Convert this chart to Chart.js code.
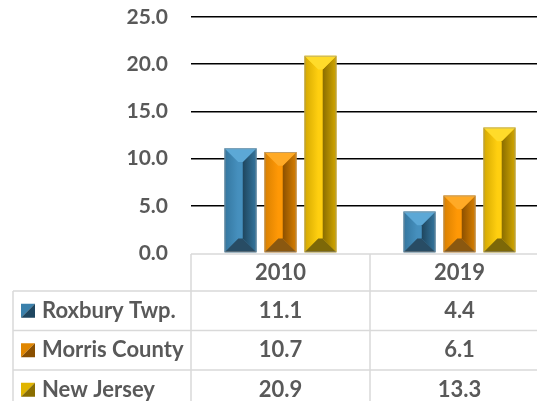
<!DOCTYPE html>
<html>
<head>
<meta charset="utf-8">
<script src="https://cdn.jsdelivr.net/npm/chart.js@4/dist/chart.umd.min.js"></script>
<style>
  html, body { margin: 0; padding: 0; background: #fff; overflow: hidden; }
  #wrap { width: 537px; height: 401px; overflow: hidden; }
  canvas { display: block; }
</style>
</head>
<body>
<div id="wrap"><canvas id="grafico" width="549" height="401"></canvas></div>
<script>
// datos
var categorias = ['2010', '2019'];
var series = ['Roxbury Twp.', 'Morris County', 'New Jersey'];
var roxbury = [11.1, 4.4];
var morris = [10.7, 6.1];
var newJersey = [20.9, 13.3];
var ticksY = [0, 5, 10, 15, 20, 25];

var gris = '#595959';
var linea = '#d9d9d9';
var fuente = 'Lato, "Open Sans", sans-serif';

// colores de las caras del bisel: arriba, izquierda, centro, derecha, abajo
var bisel = [
  { top: '#5ca8d6', left: '#34769f', mid: '#4690be', right: '#1f465e', bottom: '#284c64', key: '#3a80ab', keyDark: '#1e4660' },
  { top: '#ffaa26', left: '#d98000', mid: '#ff9806', right: '#8c5000', bottom: '#8a5810', key: '#e08600', keyDark: '#8a4f00' },
  { top: '#ffdb2a', left: '#d4a800', mid: '#ffcf10', right: '#8a6d00', bottom: '#7d6808', key: '#e0b400', keyDark: '#8a6e00' }
];

function poligono(ctx, pts, color) {
  ctx.beginPath();
  ctx.moveTo(pts[0][0], pts[0][1]);
  for (var i = 1; i < pts.length; i++) ctx.lineTo(pts[i][0], pts[i][1]);
  ctx.closePath();
  ctx.fillStyle = color;
  ctx.fill();
}

var biselPlugin = {
  id: 'bisel',
  afterDatasetsDraw: function (chart) {
    var ctx = chart.ctx;
    ctx.save();
    chart.data.datasets.forEach(function (ds, d) {
      var c = bisel[d];
      chart.getDatasetMeta(d).data.forEach(function (el) {
        var p = el.getProps(['x', 'y', 'base', 'width'], true);
        var x0 = p.x - p.width / 2, x1 = p.x + p.width / 2;
        var y0 = p.y, y1 = p.base;
        var b = Math.min(p.width * 0.43, (y1 - y0) / 2);
        var gl = ctx.createLinearGradient(x0, 0, x0 + b, 0);
        gl.addColorStop(0, c.left); gl.addColorStop(1, c.mid);
        var gr = ctx.createLinearGradient(x1 - b, 0, x1, 0);
        gr.addColorStop(0, c.right); gr.addColorStop(1, c.left);
        poligono(ctx, [[x0 + b, y0 + b], [x1 - b, y0 + b], [x1 - b, y1 - b], [x0 + b, y1 - b]], c.mid);
        poligono(ctx, [[x0, y0], [x0 + b, y0 + b], [x0 + b, y1 - b], [x0, y1]], gl);
        poligono(ctx, [[x1, y0], [x1 - b, y0 + b], [x1 - b, y1 - b], [x1, y1]], gr);
        poligono(ctx, [[x0, y0], [x1, y0], [x1 - b, y0 + b], [x0 + b, y0 + b]], c.top);
        poligono(ctx, [[x0, y1], [x1, y1], [x1 - b, y1 - b], [x0 + b, y1 - b]], c.bottom);
        // borde fino gris
        ctx.strokeStyle = 'rgba(150,150,150,0.6)';
        ctx.lineWidth = 1;
        ctx.strokeRect(x0 + 0.5, y0 + 0.5, x1 - x0 - 1, y1 - y0 - 1);
      });
    });
    ctx.restore();
  }
};

var tablaPlugin = {
  id: 'tabla',
  afterDraw: function (chart) {
    var ctx = chart.ctx;
    var area = chart.chartArea;
    var xs = chart.scales.x;
    var anchoCat = xs.width / categorias.length;
    var izq = 13;
    var top = area.bottom + 1;
    var altoCab = 37, altoFila = 39.5;
    var fondo = chart.height + 10;
    var der = chart.width;
    var datos = [roxbury, morris, newJersey];

    ctx.save();
    ctx.strokeStyle = linea;
    ctx.lineWidth = 1.5;
    ctx.beginPath();
    // borde superior de la cabecera
    ctx.moveTo(area.left, top); ctx.lineTo(der, top);
    ctx.moveTo(area.left, top); ctx.lineTo(area.left, fondo);
    for (var i = 1; i <= categorias.length; i++) {
      var vx = area.left + i * anchoCat;
      ctx.moveTo(vx, top); ctx.lineTo(vx, fondo);
    }
    ctx.moveTo(izq, top + altoCab); ctx.lineTo(izq, fondo);
    for (var r = 0; r < series.length; r++) {
      var hy = top + altoCab + r * altoFila;
      ctx.moveTo(izq, hy); ctx.lineTo(der, hy);
    }
    ctx.stroke();

    ctx.fillStyle = gris;
    ctx.font = 'bold 22px ' + fuente;
    ctx.textBaseline = 'middle';
    ctx.textAlign = 'center';
    categorias.forEach(function (cat, i) {
      ctx.fillText(cat, xs.getPixelForValue(i), top + altoCab / 2);
    });
    series.forEach(function (nombre, r) {
      var cy = top + altoCab + r * altoFila + altoFila / 2;
      var c = bisel[r];
      // clave de la leyenda
      var kx = 21, ky = cy - 7, k = 14;
      poligono(ctx, [[kx, ky], [kx + k, ky], [kx, ky + k]], c.key);
      poligono(ctx, [[kx + k, ky], [kx + k, ky + k], [kx, ky + k]], c.keyDark);
      ctx.fillStyle = gris;
      ctx.textAlign = 'left';
      ctx.fillText(nombre, 42, cy);
      ctx.textAlign = 'center';
      datos[r].forEach(function (v, i) {
        ctx.fillText(v.toFixed(1), xs.getPixelForValue(i), cy);
      });
    });
    ctx.restore();
  }
};

var ctx = document.getElementById('grafico').getContext('2d');
var chart = new Chart(ctx, {
  type: 'bar',
  data: {
    labels: categorias,
    datasets: [
      { label: series[0], data: roxbury, backgroundColor: bisel[0].mid },
      { label: series[1], data: morris, backgroundColor: bisel[1].mid },
      { label: series[2], data: newJersey, backgroundColor: bisel[2].mid }
    ]
  },
  options: {
    responsive: false,
    animation: false,
    categoryPercentage: 0.67,
    barPercentage: 0.8,
    layout: { padding: { top: 17, bottom: 148, left: 0, right: 0 } },
    plugins: { legend: { display: false }, tooltip: { enabled: false } },
    scales: {
      x: { display: false },
      y: {
        min: 0,
        max: 25,
        afterBuildTicks: function (s) { s.ticks = ticksY.map(function (v) { return { value: v }; }); },
        afterFit: function (s) { s.width = 191; s.paddingTop = 0; s.paddingBottom = 0; },
        ticks: {
          padding: 23,
          color: gris,
          font: { family: fuente, size: 21, weight: 'bold' },
          callback: function (v) { return Number(v).toFixed(1); }
        },
        grid: {
          drawTicks: false,
          lineWidth: 1.5,
          color: function (c) { return c.tick && c.tick.value === 0 ? 'rgba(0,0,0,0)' : '#000'; }
        },
        border: { display: false }
      }
    }
  },
  plugins: [biselPlugin, tablaPlugin]
});
</script>
</body>
</html>
